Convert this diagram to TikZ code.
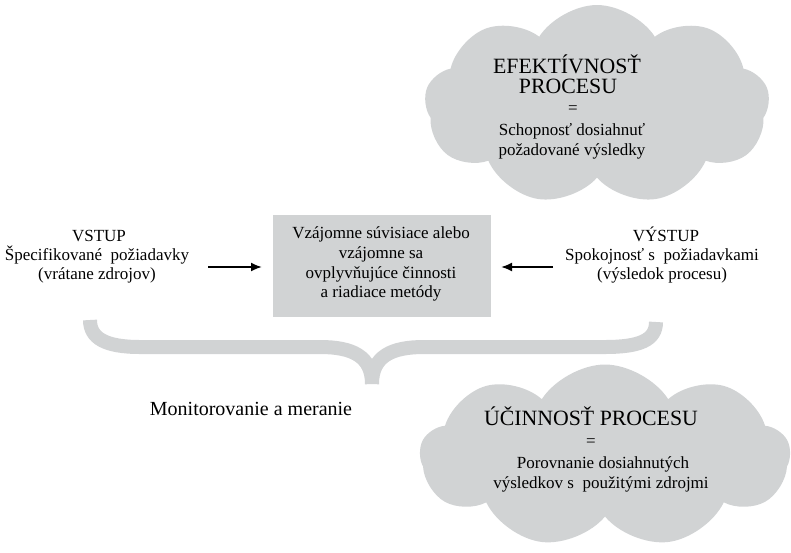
\documentclass[tikz,border=0pt]{standalone}
\usepackage{fontspec}
\setmainfont{Liberation Serif}
\usetikzlibrary{shapes.symbols,arrows.meta}
\definecolor{panel}{HTML}{D1D3D4}
\begin{document}
\begin{tikzpicture}[x=1pt,y=-1pt,
  txt/.style={anchor=base,inner sep=0pt,font=\fontsize{17}{20}\selectfont},
  big/.style={anchor=base,inner sep=0pt,font=\fontsize{21.8}{24}\selectfont},
  eq/.style={inner sep=0pt,font=\fontsize{17}{20}\selectfont},
  puff/.style={cloud,cloud puffs=9,cloud puff arc=115,fill=panel,draw=none,inner sep=0pt},
  flow/.style={line width=1.9pt,-{Latex[length=11pt,width=9pt]}},
  brace/.style={draw=panel,line width=14pt,line cap=butt}]
\path[use as bounding box] (0,0) rectangle (791,552);

% clouds
\node[puff,minimum width=345,minimum height=200,shape border rotate=10] (effcloud) at (597,105) {};
\node[puff,minimum width=370,minimum height=183,shape border rotate=5] (uccloud) at (605,456) {};

% central process box
\node[fill=panel,minimum width=218,minimum height=102,inner sep=0pt] (proc) at (382,266) {};
\node[txt] (p1) at (381,238) {Vzájomne súvisiace alebo};
\node[txt] (p2) at (381,258) {vzájomne sa};
\node[txt] (p3) at (381,278) {ovplyvňujúce činnosti};
\node[txt] (p4) at (381,297) {a riadiace metódy};

% input
\node[txt] (in1) at (99,241) {VSTUP};
\node[txt] (in2) at (97,260) {Špecifikované\ \ požiadavky};
\node[txt] (in3) at (97,279) {(vrátane zdrojov)};
% output
\node[txt] (out1) at (666,241) {VÝSTUP};
\node[txt] (out2) at (662,260) {Spokojnosť s\ \ požiadavkami};
\node[txt] (out3) at (662,279) {(výsledok procesu)};

\coordinate (inA) at (208,267);
\coordinate (inB) at (262,267);
\coordinate (outA) at (553,267);
\coordinate (outB) at (501,267);
\draw[flow] (inA) -- (inB);
\draw[flow] (outA) -- (outB);

% brace under the process
\coordinate (bl) at (90,320);
\coordinate (bm) at (372,384);
\coordinate (br) at (656,322);
\draw[brace] (bl) .. controls (90,338) and (105,347) .. (140,347) -- (320,347)
  .. controls (352,347) and (372,356) .. (bm);
\draw[brace] (bm) .. controls (372,356) and (392,347) .. (424,347) -- (605,347)
  .. controls (640,347) and (656,340) .. (br);

\node[anchor=base,inner sep=0pt,font=\fontsize{20}{24}\selectfont] (mon) at (251,415) {Monitorovanie a meranie};

% effectiveness cloud text
\node[big] (e1) at (567,73) {EFEKTÍVNOSŤ};
\node[big] (e2) at (568,93) {PROCESU};
\node[eq] (e3) at (573,110) {=};
\node[txt] (e4) at (572,135) {Schopnosť dosiahnuť};
\node[txt] (e5) at (572,155) {požadované výsledky};

% efficiency cloud text
\node[big] (u1) at (591,425) {ÚČINNOSŤ PROCESU};
\node[eq] (u2) at (591,443) {=};
\node[txt] (u3) at (603,468) {Porovnanie dosiahnutých};
\node[txt] (u4) at (601,488) {výsledkov s\ \ použitými zdrojmi};
\end{tikzpicture}
\end{document}
